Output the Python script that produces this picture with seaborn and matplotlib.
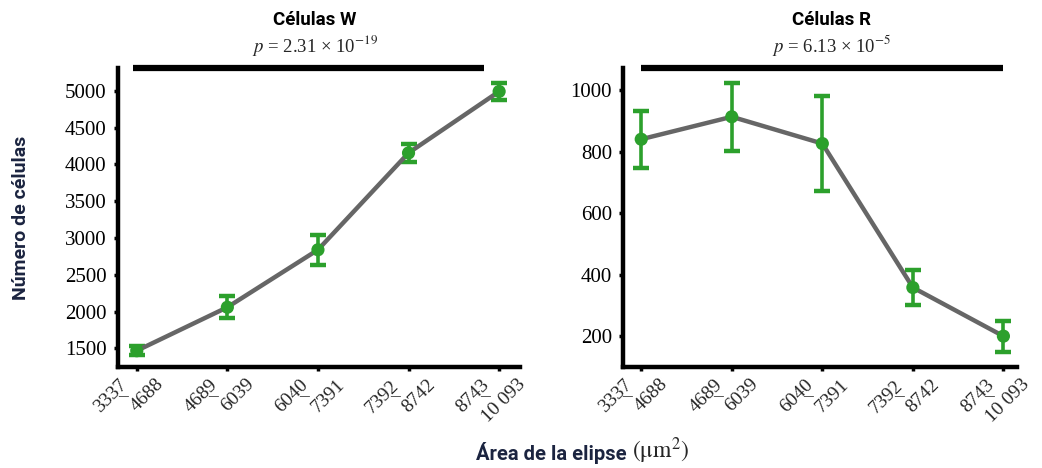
import matplotlib
matplotlib.use("Agg")
import matplotlib.pyplot as plt
import seaborn as sns
import numpy as np
import pandas as pd

categories = ["3337–4688", "4689–6039", "6040–7391", "7392–8742", "8743–10 093"]

w_values = [1470, 2060, 2840, 4155, 4990]
w_err = [60, 150, 200, 120, 110]

r_values = [840, 913, 826, 358, 200]
r_err = [93, 110, 153, 57, 50]

titles = ["Células W", "Células R"]
pvals = [r"$p$ = 2.31 × 10$^{−19}$", r"$p$ = 6.13 × 10$^{−5}$"]
ylims = [(1250, 5310), (100, 1072)]
yticks = [[1500, 2000, 2500, 3000, 3500, 4000, 4500, 5000], [200, 400, 600, 800, 1000]]

sns.set_theme(style="ticks")
plt.rcParams["mathtext.fontset"] = "stix"
plt.rcParams["font.family"] = ["Liberation Serif", "DejaVu Serif"]

GREEN = "#2ca02c"
GRAY = "#666666"
NAVY = "#1b2440"
SANS = ["Roboto", "DejaVu Sans"]
TICKFS = 15
XTFS = 14

fig = plt.figure(figsize=(10.42, 4.68), dpi=100)
ax1 = fig.add_axes([0.113, 0.216, 0.386, 0.639])
ax2 = fig.add_axes([0.598, 0.216, 0.378, 0.639])

series = [(w_values, w_err), (r_values, r_err)]
xlims = [(-0.21, 4.23), (-0.2, 4.15)]
bars = [(-0.04, 3.83), (0.0, 4.0)]
title_x = [0.302, 0.798]

px = 72.0 / 100.0  # points per pixel

for i, ax in enumerate([ax1, ax2]):
    vals, errs = series[i]
    pos = np.arange(len(categories))
    df = pd.DataFrame({"x": pos, "y": vals, "e": errs})
    ax.errorbar(df["x"], df["y"], yerr=df["e"], fmt="none", ecolor=GREEN,
                elinewidth=2.6, capsize=6, capthick=3.2, zorder=2)
    sns.lineplot(data=df, x="x", y="y", ax=ax, color=GRAY, linewidth=3.2, zorder=3)
    sns.scatterplot(data=df, x="x", y="y", ax=ax, color=GREEN, s=90,
                    edgecolor="none", zorder=4)
    ax.set_xlim(*xlims[i])
    ax.set_ylim(*ylims[i])
    ax.set_xticks(pos)
    ax.set_xticklabels([])
    ax.set_yticks(yticks[i])
    ax.set_yticklabels([str(t) for t in yticks[i]], fontsize=TICKFS)
    ax.set_xlabel("")
    ax.set_ylabel("")
    for s in ["top", "right"]:
        ax.spines[s].set_visible(False)
    for s in ["left", "bottom"]:
        ax.spines[s].set_linewidth(3.2)
        ax.spines[s].set_color("black")
    ax.tick_params(axis="both", direction="out", length=3, width=2.5, colors="black")
    ax.tick_params(axis="y", pad=5)
    # category labels: "low – high" with rotated numbers and horizontal dash
    xf = ax.get_xaxis_transform()
    for k, cat in enumerate(categories):
        low, high = cat.split("–")
        ax.annotate(low, xy=(k, 0), xycoords=xf, xytext=(-9 * px, -19 * px),
                    textcoords="offset points", rotation=45, rotation_mode="anchor",
                    ha="right", va="baseline", fontsize=XTFS, annotation_clip=False)
        ax.annotate("–", xy=(k, 0), xycoords=xf, xytext=(-14 * px, -34 * px),
                    textcoords="offset points", ha="center", va="baseline",
                    fontsize=XTFS, annotation_clip=False)
        ax.annotate(high, xy=(k, 0), xycoords=xf, xytext=(27 * px, -18 * px),
                    textcoords="offset points", rotation=45, rotation_mode="anchor",
                    ha="right", va="baseline", fontsize=XTFS, annotation_clip=False)
    # significance bar
    ax.plot([bars[i][0], bars[i][1]], [1.0, 1.0], color="black", linewidth=4.5,
            transform=ax.get_xaxis_transform(), clip_on=False, solid_capstyle="butt")
    fig.text(title_x[i], 0.957, titles[i], ha="center", va="center", fontsize=13.5,
             fontweight="bold", family=SANS, color="black")
    fig.text(title_x[i], 0.903, pvals[i], ha="center", va="center", fontsize=13.5)

fig.text(0.02, 0.535, "Número de células", rotation=90, ha="center", va="center",
         fontsize=14, fontweight="bold", family=SANS, color=NAVY)
fig.text(0.457, 0.032, "Área de la elipse", ha="left", va="center",
         fontsize=14.5, fontweight="bold", family=SANS, color=NAVY)
fig.text(0.607, 0.036, r"$(\mathrm{\mu m}^2)$", ha="left", va="center", fontsize=17)

fig.savefig("out.png", dpi=100)
